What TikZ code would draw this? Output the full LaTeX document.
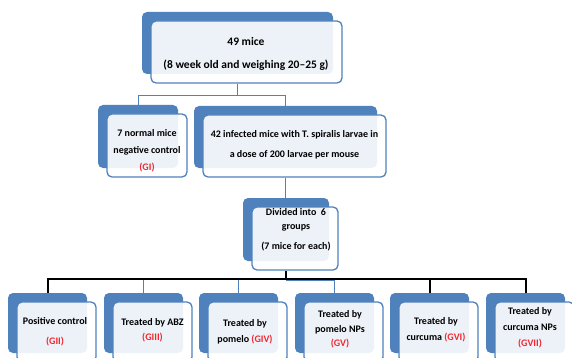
\documentclass[tikz,border=0pt]{standalone}
\usepackage{fontspec}
\setmainfont{Carlito}
\usetikzlibrary{positioning,backgrounds}
\definecolor{boxblue}{RGB}{79,129,189}
\definecolor{grpred}{RGB}{240,40,50}
\newcommand{\gid}[1]{{\color{grpred}(#1)}}
\newcommand{\grpbox}[6]{%
  \node[backbox,minimum width=#3pt,minimum height=#4pt,shift={(-9,-9)}] (#1b) at (#2) {};
  \node[frontbox,minimum width=#3pt,minimum height=#4pt] (#1f) at (#2) {};
  \node[boxtext,#5] (#1t) at (#2) {#6};
}
\tikzset{
  backbox/.style={rectangle,rounded corners=5pt,fill=boxblue,inner sep=0pt},
  frontbox/.style={rectangle,rounded corners=5pt,draw=boxblue,line width=1.3pt,
    fill=white,fill opacity=0.9,inner sep=0pt},
  boxtext/.style={align=center,inner sep=0pt,text=black,
    font=\bfseries\fontsize{10}{12}\selectfont},
  link/.style={draw=boxblue,line width=1pt},
  bus/.style={draw=black,line width=2pt}
}

\begin{document}
\begin{tikzpicture}[x=1pt,y=-1pt]
  \useasboundingbox (0,0) rectangle (572,358);
  \grpbox{top}{246.5,52}{191}{62}{shift={(-0.5,1.5)},font=\bfseries\fontsize{11.5}{14}\selectfont}
    {49 mice\\[9pt](8 week old and weighing 20--25 g)}
  \grpbox{g1}{147,145.5}{80}{63}{shift={(0,5)}}
    {7 normal mice\\[5.5pt]negative control\\[5pt]\gid{GI}}
  \grpbox{inf}{294.5,146}{183}{62}{shift={(0,-1)}}
    {42 infected mice with T. spiralis larvae in\\[8pt]a dose of 200 larvae per mouse}
  \grpbox{div}{295,238.5}{86}{63}{shift={(1,-8.5)}}
    {Divided into\ \ 6\\[2pt]groups\\[8pt](7 mice for each)}
  % treated groups
  \grpbox{g2}{56.5,332}{79}{60}{shift={(-1.5,0)}}{Positive control\\[8pt]\gid{GII}}
  \grpbox{g3}{152.5,332}{79}{60}{shift={(0,-1.5)}}{Treated by ABZ\\[3pt]\gid{GIII}}
  \grpbox{g4}{247.5,332}{79}{60}{shift={(-2.5,0)}}{Treated by\\[4pt]pomelo \gid{GIV}}
  \grpbox{g5}{343.5,332}{79}{60}{shift={(-3.5,-2.5)}}{Treated by\\[3pt]pomelo NPs\\[2pt]\gid{GV}}
  \grpbox{g6}{438.5,332}{79}{60}{shift={(-2.5,-2)}}{Treated by\\[4pt]curcuma \gid{GVI}}
  \grpbox{g7}{534.5,332}{79}{60}{shift={(-4.5,-4)}}{Treated by\\[4pt]curcuma NPs\\[4pt]\gid{GVII}}
  \begin{scope}[on background layer]
    \draw[link] (topb.south |- topf.south) -- ++(0,12) coordinate (tj) -| (g1b.north);
    \draw[link] (tj) -| (infb.north);
    \draw[link] (infb.south |- inff.south) -- (infb.south |- divb.north);
    \draw[bus] (divb.south |- divf.south) -- ++(0,8) coordinate (bj);
    \coordinate (bb) at ([yshift=-2pt]bj);
    \draw[link,line width=1.4pt] (bb) -| (g5b.north);
    \draw[link] (g3b.north) -- (g3b.north |- bj);
    \draw[link] (g4b.north) -- (g4b.north |- bj);
    \draw[bus] (g2b.north) |- (bj) -| (g7b.north);
    \draw[bus] (g6b.north) -- (g6b.north |- bj);
  \end{scope}
\end{tikzpicture}
\end{document}
